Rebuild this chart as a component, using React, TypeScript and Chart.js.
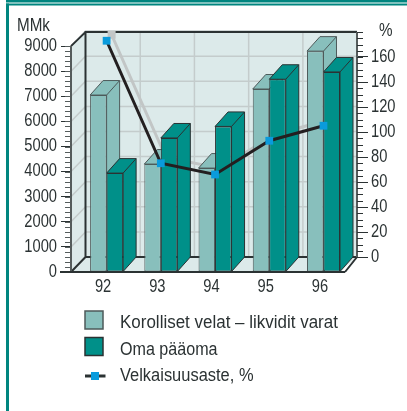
import React, { useEffect, useRef } from "react";
import { Chart, registerables } from "chart.js";

Chart.register(...registerables);

const categories = ["92", "93", "94", "95", "96"];
const korollisetVelat = [7050, 4300, 4140, 7290, 8800];
const omaPaaoma = [3940, 5340, 5800, 7680, 7970];
const velkaisuusaste = [173, 75, 66, 93, 105];
const leftTicks = [0, 1000, 2000, 3000, 4000, 5000, 6000, 7000, 8000, 9000];
const rightTicks = [0, 20, 40, 60, 80, 100, 120, 140, 160];

const TEAL = "#009089";
const LIGHT = "#88bfbc";
const WALL = "#dceaea";
const INK = "#2b3233";
const FONT = '"Liberation Sans", sans-serif';

function narrowText(ctx: any, text: string, x: number, y: number, sx: number, align = "left") {
  ctx.save();
  ctx.translate(x, y);
  ctx.scale(sx, 1);
  ctx.textAlign = align;
  ctx.textBaseline = "middle";
  ctx.fillText(text, 0, 0);
  ctx.restore();
}

function drawDepth(chart: any, index: number) {
  const meta = chart.getDatasetMeta(index);
  const ctx = chart.ctx;
  const dx = 13;
  const dy = 14.5;
  ctx.save();
  ctx.fillStyle = chart.data.datasets[index].backgroundColor;
  ctx.strokeStyle = chart.data.datasets[index].borderColor;
  ctx.lineWidth = 1;
  meta.data.forEach((bar: any) => {
    const { x, y, base, width } = bar.getProps(["x", "y", "base", "width"]);
    const l = x - width / 2;
    const r = x + width / 2;
    ctx.beginPath();
    ctx.moveTo(l, y);
    ctx.lineTo(l + dx, y - dy);
    ctx.lineTo(r + dx, y - dy);
    ctx.lineTo(r + dx, base - dy);
    ctx.lineTo(r, base);
    ctx.lineTo(r, y);
    ctx.closePath();
    ctx.fill();
    ctx.stroke();
    ctx.beginPath();
    ctx.moveTo(r, y);
    ctx.lineTo(r + dx, y - dy);
    ctx.stroke();
  });
  ctx.restore();
}

const depthPlugin = {
  id: "depth",
  afterLayout(chart: any) {
    const y = chart.scales.y;
    const y1 = chart.scales.y1;
    y.left -= 8.5;
    y.right -= 8.5;
    y1.left += 6.4;
    y1.right += 6.4;
  },
  beforeDraw(chart: any) {
    const ctx = chart.ctx;
    ctx.save();
    ctx.fillStyle = "#ffffff";
    ctx.fillRect(0, 0, 407, 411);
    ctx.fillStyle = "#00857f";
    ctx.fillRect(6, 0, 401, 2.5);
    ctx.fillRect(6, 3.5, 401, 2);
    ctx.fillRect(6, 3.5, 3, 407.5);
    ctx.restore();
  },
  beforeDatasetsDraw(chart: any) {
    const ctx = chart.ctx;
    const y = chart.scales.y;
    const y1 = chart.scales.y1;
    const frontL = 71;
    const frontR = 340;
    const backL = 85.5;
    const backR = 357;
    const bottom = y.getPixelForValue(0);
    const top9k = y.getPixelForValue(9000);
    const dy = 15;
    const backTop = top9k - 14;
    ctx.save();
    // walls
    ctx.fillStyle = WALL;
    ctx.fillRect(backL, backTop, backR - backL, bottom - dy - backTop);
    ctx.beginPath();
    ctx.moveTo(frontL, top9k);
    ctx.lineTo(backL, backTop);
    ctx.lineTo(backL, bottom - dy);
    ctx.lineTo(backR, bottom - dy);
    ctx.lineTo(frontR, bottom);
    ctx.lineTo(frontL, bottom);
    ctx.closePath();
    ctx.fill();
    // grid
    ctx.strokeStyle = "#c4cccc";
    ctx.lineWidth = 1.5;
    leftTicks.slice(1).forEach((v) => {
      const p = y.getPixelForValue(v);
      ctx.beginPath();
      ctx.moveTo(frontL, p);
      ctx.lineTo(backL, p - dy);
      ctx.lineTo(backR, p - dy);
      ctx.stroke();
    });
    const x = chart.scales.x;
    for (let i = 1; i < categories.length; i++) {
      const p = (x.getPixelForValue(i - 1) + x.getPixelForValue(i)) / 2 + 6.5;
      ctx.beginPath();
      ctx.moveTo(p, backTop);
      ctx.lineTo(p, bottom - dy);
      ctx.stroke();
    }
    // wall edges
    ctx.strokeStyle = INK;
    ctx.lineWidth = 2;
    ctx.beginPath();
    ctx.moveTo(backR, backTop);
    ctx.lineTo(backL, backTop);
    ctx.lineTo(backL, bottom - dy);
    ctx.lineTo(backR, bottom - dy);
    ctx.moveTo(backL, backTop);
    ctx.lineTo(frontL, top9k);
    ctx.moveTo(backL, bottom - dy);
    ctx.lineTo(frontL, bottom);
    ctx.moveTo(backR, bottom - dy);
    ctx.lineTo(frontR + 5, bottom);
    ctx.stroke();
    // left axis with minor ticks
    ctx.strokeStyle = "#555c5c";
    ctx.beginPath();
    ctx.moveTo(frontL, top9k);
    ctx.lineTo(frontL, bottom);
    ctx.stroke();
    ctx.lineWidth = 1;
    for (let v = 0; v <= 9000; v += 200) {
      const p = Math.round(y.getPixelForValue(v)) + 0.5;
      ctx.beginPath();
      ctx.moveTo(65, p);
      ctx.lineTo(71, p);
      ctx.stroke();
    }
    // right axis with minor ticks
    const r0 = y1.getPixelForValue(0);
    ctx.lineWidth = 2;
    ctx.beginPath();
    ctx.moveTo(backR, backTop);
    ctx.lineTo(backR, r0);
    ctx.stroke();
    ctx.strokeStyle = INK;
    ctx.lineWidth = 1;
    for (let v = 0; v <= 180; v += 5) {
      const p = Math.round(y1.getPixelForValue(v)) + 0.5;
      ctx.beginPath();
      ctx.moveTo(backR, p);
      ctx.lineTo(backR + 6, p);
      ctx.stroke();
    }
    // shadow of the line on the back wall
    const pts = chart.getDatasetMeta(2).data;
    ctx.strokeStyle = "#c2c6c6";
    ctx.lineWidth = 3;
    ctx.beginPath();
    pts.forEach((pt: any, i: number) => {
      if (i === 0) ctx.moveTo(pt.x + 5, pt.y - 6);
      else ctx.lineTo(pt.x + 5, pt.y - 6);
    });
    ctx.stroke();
    ctx.fillStyle = "#c2c6c6";
    ctx.fillRect(pts[0].x + 1, pts[0].y - 10, 8, 8);
    ctx.restore();
    // top and side faces of the bars, light ones first
    drawDepth(chart, 0);
    drawDepth(chart, 1);
  },
  afterDatasetsDraw(chart: any) {
    const ctx = chart.ctx;
    const { x, y, y1 } = chart.scales;
    const bottom = y.getPixelForValue(0);
    ctx.save();
    ctx.strokeStyle = INK;
    ctx.lineWidth = 2;
    ctx.beginPath();
    ctx.moveTo(60, bottom);
    ctx.lineTo(345, bottom);
    ctx.stroke();
    ctx.fillStyle = INK;
    ctx.font = `17.5px ${FONT}`;
    // tick labels, condensed like the reference's typeface
    y.ticks.forEach((t: any) => narrowText(ctx, String(t.value), 57, y.getPixelForValue(t.value), 0.84, "right"));
    y1.ticks.forEach((t: any) => narrowText(ctx, String(t.value), 371, y1.getPixelForValue(t.value), 0.84));
    categories.forEach((c, i) => narrowText(ctx, c, x.getPixelForValue(i) - 3.5, 287, 0.84, "center"));
    narrowText(ctx, "MMk", 17, 26, 0.87);
    narrowText(ctx, "%", 379, 31, 0.87);
    // legend
    narrowText(ctx, "Korolliset velat – likvidit varat", 120, 323, 0.97);
    narrowText(ctx, "Oma pääoma", 120, 350, 0.92);
    narrowText(ctx, "Velkaisuusaste, %", 120, 376, 0.94);
    ctx.lineWidth = 1.5;
    ctx.fillStyle = LIGHT;
    ctx.strokeStyle = "#4d5a5a";
    ctx.fillRect(85, 311, 18, 18);
    ctx.strokeRect(85, 311, 18, 18);
    ctx.fillStyle = TEAL;
    ctx.strokeStyle = INK;
    ctx.fillRect(85, 337.5, 18, 18);
    ctx.strokeRect(85, 337.5, 18, 18);
    ctx.lineWidth = 3;
    ctx.beginPath();
    ctx.moveTo(85, 376);
    ctx.lineTo(105.5, 376);
    ctx.stroke();
    ctx.fillStyle = "#0a9bdc";
    ctx.fillRect(91, 372, 8, 8);
    ctx.restore();
  },
};

export default function App() {
  const ref = useRef<HTMLCanvasElement>(null);
  useEffect(() => {
    document.body.style.margin = "0";
    const chart = new Chart(ref.current!, {
      type: "bar",
      plugins: [depthPlugin],
      data: {
        labels: categories,
        datasets: [
          {
            label: "Korolliset velat – likvidit varat",
            data: korollisetVelat,
            backgroundColor: LIGHT,
            borderColor: "#4d5a5a",
            borderWidth: 1,
            borderSkipped: false,
            yAxisID: "y",
            order: 2,
          } as any,
          {
            label: "Oma pääoma",
            data: omaPaaoma,
            backgroundColor: TEAL,
            borderColor: INK,
            borderWidth: 1,
            borderSkipped: false,
            yAxisID: "y",
            order: 3,
          } as any,
          {
            type: "line",
            label: "Velkaisuusaste, %",
            data: velkaisuusaste,
            borderColor: "#231f20",
            borderWidth: 3,
            tension: 0,
            pointStyle: "rect",
            pointRadius: 5.5,
            pointBackgroundColor: "#0a9bdc",
            pointBorderWidth: 0,
            yAxisID: "y1",
            order: 1,
            clip: false,
          } as any,
        ],
      },
      options: {
        animation: false,
        responsive: false,
        layout: { padding: { top: 32, left: 0, right: 0, bottom: 0 } },
        plugins: { legend: { display: false }, title: { display: false }, tooltip: { enabled: false } },
        datasets: { bar: { categoryPercentage: 0.609, barPercentage: 1 } },
        scales: {
          x: {
            type: "category",
            grid: { display: false },
            border: { display: false },
            afterFit(s: any) {
              s.height = 139;
            },
            ticks: { display: false },
          },
          y: {
            type: "linear",
            position: "left",
            min: 0,
            max: 9562,
            border: { display: false },
            grid: { drawOnChartArea: false, tickLength: 10, color: INK, lineWidth: 1 },
            afterBuildTicks(s: any) {
              s.ticks = leftTicks.map((value) => ({ value }));
            },
            afterFit(s: any) {
              s.width = 79.5;
            },
            ticks: { display: false },
          },
          y1: {
            type: "linear",
            position: "right",
            min: -12,
            max: 180,
            border: { display: false },
            grid: { drawOnChartArea: false, tickLength: 11, color: INK, lineWidth: 1 },
            afterBuildTicks(s: any) {
              s.ticks = rightTicks.map((value) => ({ value }));
            },
            afterFit(s: any) {
              s.width = 56.4;
            },
            ticks: { display: false },
          },
        },
      } as any,
    });
    return () => chart.destroy();
  }, []);
  return <canvas ref={ref} width={407} height={411} style={{ display: "block", width: 407, height: 411 }} />;
}
